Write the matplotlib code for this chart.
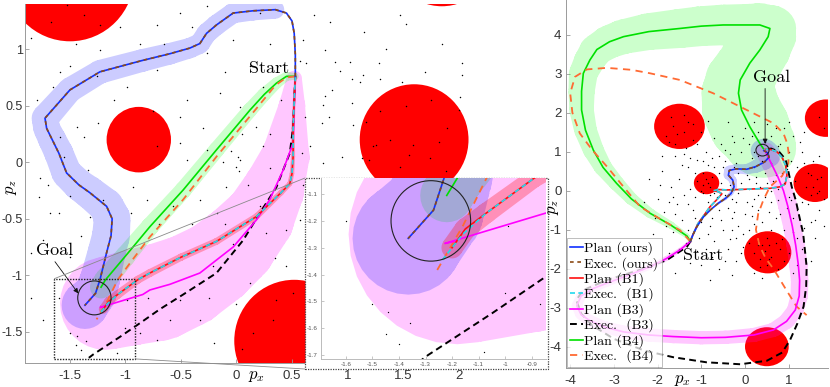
import numpy as np
import matplotlib
matplotlib.use('Agg')
import matplotlib.pyplot as plt
from matplotlib.path import Path
from matplotlib.patches import PathPatch, Circle, Rectangle, ConnectionPatch
from matplotlib.lines import Line2D
from matplotlib.ticker import FuncFormatter

plt.rcParams['font.family'] = ['Liberation Sans', 'DejaVu Sans']
plt.rcParams['mathtext.fontset'] = 'cm'
plt.rcParams['axes.unicode_minus'] = False

# ---------------- obstacles (same map in both panels) ----------------
obs_x = [-1.50, -0.88, 0.52, 1.60, 1.85, 0.50]
obs_y = [1.65, 0.20, -1.58, 0.20, 1.86, -4.00]
obs_r = [0.58, 0.29, 0.54, 0.49, 0.48, 0.50]

# ---------------- left scenario ----------------
a_goal = (-1.28, -1.20)
goal_r = 0.15

a_blue_x = [0.53, 0.53, 0.52, 0.50, 0.45, 0.35, 0.15, -0.03, -0.18, -0.27, -0.33, -0.42, -0.60, -0.85, -1.23,
            -1.50, -1.725, -1.71, -1.66, -1.60, -1.53, -1.42, -1.32, -1.17, -1.12, -1.13, -1.17, -1.23, -1.27, -1.365]
a_blue_y = [0.76, 0.95, 1.14, 1.25, 1.32, 1.35, 1.34, 1.32, 1.215, 1.14, 1.05, 1.01, 0.96, 0.90, 0.80,
            0.64, 0.39, 0.30, 0.20, 0.08, -0.095, -0.20, -0.27, -0.39, -0.50, -0.65, -0.80, -1.04, -1.16, -1.265]
a_blue_w = [0, 0, 0, 0, 0, 0.08, 0.085, 0.09, 0.09, 0.09, 0.09, 0.09, 0.095, 0.10, 0.105,
            0.11, 0.12, 0.12, 0.125, 0.13, 0.135, 0.14, 0.145, 0.155, 0.165, 0.17, 0.17, 0.18, 0.19, 0.21]

a_green_x = [0.53, 0.45, 0.36, 0.25, 0.12, -0.18, -0.48, -0.78, -1.00, -1.18, -1.22]
a_green_y = [0.76, 0.76, 0.70, 0.60, 0.46, 0.11, -0.245, -0.57, -0.83, -1.04, -1.105]
a_green_w = [0.03, 0.04, 0.05, 0.06, 0.065, 0.07, 0.075, 0.08, 0.09, 0.10, 0.10]

a_orange_x = [0.53, 0.45, 0.35, 0.20, -0.18, -0.48, -0.78, -0.95, -1.07, -1.16, -1.26]
a_orange_y = [0.76, 0.75, 0.68, 0.50, 0.05, -0.33, -0.66, -0.88, -1.04, -1.22, -1.39]

a_red_x = [0.53, 0.52, 0.51, 0.51, 0.50, 0.48, 0.40, 0.18, -0.18, -0.50, -0.78, -0.89, -1.07, -1.15, -1.20]
a_red_y = [0.76, 0.55, 0.30, 0.05, -0.10, -0.19, -0.27, -0.48, -0.70, -0.84, -0.98, -1.04, -1.17, -1.23, -1.30]
a_red_w = [0.01, 0.012, 0.015, 0.018, 0.02, 0.022, 0.025, 0.028, 0.03, 0.032, 0.035, 0.035, 0.038, 0.04, 0.04]

a_cyan_x = [0.53, 0.52, 0.51, 0.51, 0.50, 0.48, 0.40, 0.18, -0.18, -0.50, -0.78, -0.89, -1.07, -1.16, -1.24]
a_cyan_y = [0.76, 0.55, 0.30, 0.05, -0.10, -0.19, -0.27, -0.48, -0.70, -0.84, -0.98, -1.04, -1.17, -1.25, -1.35]

a_mag_x = [0.53, 0.52, 0.51, 0.42, 0.30, 0.18, -0.03, -0.33, -0.60, -0.78, -0.844, -1.227, -1.19]
a_mag_y = [0.76, 0.50, 0.17, -0.07, -0.33, -0.51, -0.75, -0.98, -1.08, -1.13, -1.17, -1.284, -1.276]

a_ptube_x = [0.52, 0.50, 0.44, 0.33, 0.20, 0.00, -0.20, -0.45, -0.70, -0.95, -1.18]
a_ptube_y = [0.74, 0.50, 0.05, -0.25, -0.50, -0.73, -0.90, -1.05, -1.15, -1.20, -1.25]
a_ptube_w = [0.07, 0.12, 0.22, 0.28, 0.32, 0.36, 0.38, 0.41, 0.43, 0.42, 0.41]

a_blk_x = [0.53, 0.52, 0.51, 0.48, 0.36, 0.21, 0.06, -0.18, -0.48, -0.69, -0.844, -1.05, -1.29, -1.33]
a_blk_y = [0.76, 0.55, 0.31, 0.08, -0.22, -0.45, -0.69, -0.98, -1.17, -1.30, -1.406, -1.545, -1.70, -1.73]

a_dots = [(-1.53, 1.39), (-1.23, 1.21), (-1.67, 1.24), (-1.37, 1.30), (-0.72, 1.21), (-0.51, 1.32), (-0.87, 1.05),
          (-1.23, 0.99), (-1.59, 0.80), (-1.50, 0.85), (-1.65, 0.67), (-1.26, 0.76), (-0.99, 0.67), (-0.72, 0.82),
          (-0.45, 0.55), (-0.27, 0.97), (-0.03, 1.08), (0.12, 0.85), (0.24, 0.67), (-0.15, 0.61), (0.03, 0.49),
          (-0.51, 0.40), (-1.44, 0.31), (-1.37, 0.22), (-1.59, 0.22), (-1.77, -0.14), (-1.78, -0.31), (-1.68, -0.45),
          (-1.60, -0.45), (-1.32, -0.48), (-1.20, -0.33), (-1.34, -0.07), (-0.72, 0.14), (-0.51, 0.17), (-0.45, 0.02),
          (-0.27, 0.11), (-0.09, -0.22), (0.03, 0.02), (0.00, -0.04), (0.01, 0.05), (0.24, 0.14), (0.18, 0.31),
          (0.57, 0.90), (0.60, 1.08), (0.21, 1.32), (-0.27, 1.38), (-0.93, -0.22), (-0.81, -0.33), (-0.57, -0.39),
          (-0.33, -0.33), (-0.18, -0.45), (0.21, -0.39), (0.39, -0.27), (0.57, -0.51), (0.27, -0.63), (-0.03, -0.72),
          (-0.45, -0.81), (-0.21, -0.92), (0.12, -1.07), (0.45, -0.92), (0.51, -1.16), (0.33, -1.40), (-0.33, -1.40),
          (-0.51, -1.22), (-0.72, -1.57), (-0.87, -1.51), (-1.08, -1.69), (-1.44, -1.54), (-1.74, -1.40),
          (-1.50, -1.51), (-1.40, -1.66), (-0.99, -1.22), (-1.50, -0.84), (-1.74, -0.69), (0.15, -1.51),
          (0.36, -1.22), (0.84, 1.24), (1.47, 1.30), (1.53, 1.22), (0.80, 0.99), (0.63, 0.88), (0.89, 0.89),
          (1.02, 0.89), (1.28, 0.88), (2.03, 0.88), (0.93, 0.81), (1.14, 0.77), (1.29, 0.74), (1.04, 0.74),
          (1.11, 0.71), (1.49, 0.71), (2.03, 0.77), (0.80, 0.59), (0.86, 0.64), (1.04, 0.52), (2.01, 0.58),
          (0.78, 0.51), (0.83, 0.40), (1.05, 0.33), (0.77, 0.35), (0.59, 0.08), (0.66, 0.14), (0.78, -0.01),
          (1.13, 0.04), (1.53, 0.50), (1.29, 0.45), (1.17, 0.36), (1.38, 0.20), (1.23, 0.14), (1.26, 0.15),
          (1.59, 0.15), (1.82, 0.18), (1.55, 0.06), (1.74, 0.04), (1.47, -0.04), (1.89, -0.08), (2.00, 0.46),
          (1.19, 0.02), (-1.45, -1.62), (-1.00, -1.47), (-1.36, -1.58),
          (-1.85, 1.10), (-1.80, 0.55), (-1.45, 1.05), (-1.05, 1.20), (-0.65, 1.05), (-0.40, 1.20), (-0.10, 0.80),
          (0.30, 1.05), (0.40, 0.55), (0.30, 0.25), (-0.30, 0.30), (-0.75, 0.45), (-1.10, 0.55), (-1.25, 0.35),
          (-1.55, 0.05), (-1.70, -0.20), (-1.50, -0.30), (-1.40, -0.65), (-1.85, -0.80), (-1.85, -1.20),
          (-1.60, -1.20), (-0.95, -0.45), (-0.70, -0.55), (-0.40, -0.55), (-0.10, -0.55), (0.10, -0.20),
          (0.30, -0.05), (0.05, 0.25), (-0.12, 0.00), (0.02, -0.08), (-0.05, 0.10), (0.45, -0.60), (0.35, -0.85),
          (0.00, -1.25), (-0.20, -1.60), (-0.60, -1.40), (-0.80, -1.20), (-0.25, -1.20), (0.05, -1.65),
          (0.62, -0.70), (0.60, -0.20), (0.62, 0.40), (0.95, 0.05), (1.35, 1.00), (1.70, 0.80), (1.75, 0.55),
          (1.90, 0.30), (0.70, 1.30), (1.15, 1.15), (1.85, 1.05)]
a_dot_x, a_dot_y = zip(*a_dots)

zoom_x = [-1.64, -0.91]
zoom_y = [-1.74, -1.03]

# ---------------- right scenario ----------------
b_goal = (0.40, 1.04)

b_blue_x = [-1.25, -1.20, -1.10, -0.95, -0.78, -0.61, -0.45, -0.32, -0.25, -0.28, -0.38, -0.36, -0.20, 0.04,
            0.25, 0.45, 0.55, 0.52, 0.43]
b_blue_y = [-1.30, -1.15, -0.92, -0.67, -0.48, -0.32, -0.20, -0.07, 0.10, 0.27, 0.40, 0.52, 0.56, 0.55,
            0.62, 0.74, 0.86, 0.97, 1.03]
b_blue_w = [0, 0, 0, 0, 0, 0.03, 0.04, 0.05, 0.07, 0.09, 0.11, 0.12, 0.12, 0.13, 0.16, 0.20, 0.25, 0.28, 0.30]

b_red_x = [-1.25, -1.18, -1.08, -0.92, -0.80, -0.62, -0.53, -0.60, -0.72, -0.62, -0.40, -0.15, 0.05, 0.30,
           0.57, 0.80, 0.92, 0.96, 0.93, 0.85, 0.73, 0.58, 0.47]
b_red_y = [-1.30, -1.10, -0.85, -0.60, -0.41, -0.20, -0.08, -0.03, 0.00, 0.03, 0.02, 0.03, 0.04, 0.05,
           0.06, 0.10, 0.17, 0.40, 0.65, 0.85, 1.00, 1.06, 1.06]

b_mag_x = [-1.25, -1.49, -1.80, -2.17, -2.70, -3.16, -3.50, -3.75, -3.85, -3.75, -3.55, -3.20, -2.78, -2.20,
           -1.64, -1.00, -0.45, 0.20, 0.65, 0.95, 1.15, 1.24, 1.25, 1.22, 1.16, 1.08, 0.98, 0.88, 0.75, 0.60, 0.46]
b_mag_y = [-1.30, -1.52, -1.74, -1.95, -2.18, -2.37, -2.52, -2.70, -2.95, -3.18, -3.33, -3.50, -3.62, -3.70,
           -3.74, -3.77, -3.76, -3.70, -3.57, -3.35, -3.06, -2.70, -2.30, -1.90, -1.40, -0.90, -0.40, 0.00, 0.36,
           0.70, 1.02]
b_mag_w = [0.04, 0.05, 0.06, 0.07, 0.08, 0.09, 0.10, 0.11, 0.12, 0.13, 0.14, 0.15, 0.16, 0.17, 0.17, 0.17,
           0.17, 0.18, 0.18, 0.19, 0.19, 0.20, 0.20, 0.21, 0.21, 0.21, 0.22, 0.22, 0.22, 0.22, 0.22]

b_blk_x = [-1.25, -1.33, -1.79, -2.40, -3.16, -3.70, -3.86, -3.75, -3.50, -3.00, -2.30, -1.64, -0.88, -0.11,
           0.50, 0.85, 1.03, 1.20, 1.34, 1.40, 1.41, 1.37, 1.33, 1.25, 1.16, 1.07, 1.00, 0.93, 0.78, 0.60, 0.48]
b_blk_y = [-1.30, -1.44, -1.78, -2.03, -2.29, -2.55, -2.80, -3.15, -3.45, -3.80, -4.10, -4.27, -4.40, -4.45,
           -4.36, -4.15, -3.83, -3.40, -2.97, -2.45, -1.95, -1.52, -1.09, -0.70, -0.24, 0.10, 0.45, 0.80, 1.00,
           1.08, 1.07]

b_green_x = [-1.25, -1.33, -1.70, -2.17, -2.60, -2.94, -3.25, -3.47, -3.65, -3.74, -3.74, -3.70, -3.55, -3.39,
             -3.10, -2.78, -2.20, -1.49, -1.00, -0.50, 0.10, 0.34, 0.57, 0.53, 0.34, 0.11, -0.11, -0.15, -0.08,
             0.11, 0.34, 0.42]
b_green_y = [-1.30, -1.16, -0.88, -0.58, -0.21, 0.19, 0.60, 1.04, 1.55, 2.07, 2.55, 3.01, 3.35, 3.62,
             3.82, 3.95, 4.08, 4.16, 4.22, 4.25, 4.25, 4.25, 4.16, 3.95, 3.61, 3.27, 2.84, 2.50, 2.07,
             1.64, 1.21, 1.08]
b_green_w = [0.04, 0.06, 0.09, 0.12, 0.15, 0.18, 0.21, 0.24, 0.26, 0.28, 0.30, 0.33, 0.36, 0.39,
             0.42, 0.44, 0.47, 0.50, 0.51, 0.52, 0.54, 0.56, 0.60, 0.64, 0.70, 0.75, 0.80, 0.85, 0.90,
             0.92, 0.82, 0.75]

b_orange_x = [-1.25, -1.49, -1.95, -2.40, -2.78, -3.16, -3.50, -3.78, -3.95, -4.00, -3.89, -3.62, -3.16,
              -2.60, -2.17, -1.49, -0.73, 0.04, 0.65, 0.88, 0.97, 1.00, 0.99, 0.85, 0.57, 0.42, 0.30, 0.25,
              0.33, 0.48, 0.65, 0.92, 1.18, 1.41]
b_orange_y = [-1.30, -1.01, -0.72, -0.41, 0.10, 0.62, 1.05, 1.47, 2.00, 2.50, 2.92, 3.11, 3.15,
              3.10, 3.01, 2.84, 2.50, 2.07, 1.73, 1.47, 1.20, 0.95, 0.70, 0.38, 0.10, -0.24, -0.60, -1.00,
              -1.40, -1.75, -2.00, -2.50, -2.97, -3.19]

b_dots = [(-1.70, 1.90), (-1.40, 1.50), (-1.20, 1.30), (-1.60, 1.20), (-1.30, 1.75), (-1.55, 1.45), (-1.00, 1.50),
          (-1.10, 1.20), (-1.80, 1.40), (-1.35, 1.10), (-0.90, 0.30), (-0.80, 0.10), (-1.00, 0.00), (-0.75, 0.35),
          (-1.10, 0.25), (-0.95, -0.05), (-1.90, 0.50), (-1.70, 0.10), (-1.75, -0.30), (-1.60, -0.60), (-1.50, 0.30),
          (-1.30, 0.60), (-1.40, -0.10), (-1.20, -0.50), (-1.00, -0.80), (-1.10, 0.80), (-0.90, 1.00), (-0.60, 0.90),
          (-0.50, 0.60), (-0.70, 0.60), (-0.55, 0.20), (-0.45, -0.10), (-0.60, -0.50), (-0.80, -0.90), (-0.50, -1.00),
          (-0.30, -0.70), (-0.20, -0.30), (-0.10, 0.20), (0.10, 0.30), (0.20, -0.20), (0.30, -0.50), (0.00, -0.60),
          (-0.20, -1.20), (0.10, -1.00), (0.40, -0.80), (0.60, -0.30), (0.80, -0.60), (0.90, -1.00), (1.10, -0.70),
          (1.20, -1.20), (1.00, -1.60), (0.30, -1.30), (-0.40, -1.50), (-0.70, -1.30), (-1.30, -1.00), (-1.50, -1.50),
          (-1.00, -1.90), (-0.60, -2.00), (-0.20, -1.80), (0.20, -2.10), (1.20, -1.90), (1.60, -1.20), (1.50, -0.80),
          (1.70, -0.50), (1.30, -0.30), (0.90, 0.20), (0.70, 0.40), (0.50, 0.20), (0.30, 0.90), (0.10, 1.20),
          (-0.10, 1.00), (-0.30, 1.40), (0.00, 1.60), (0.30, 1.50), (0.60, 1.40), (0.80, 1.20), (1.00, 1.00),
          (1.10, 1.40), (0.90, 1.60), (0.50, 1.70), (-0.20, 0.70), (0.20, 0.60), (0.60, 0.70), (1.20, 0.60),
          (1.30, 1.00), (-0.40, 0.40), (-0.30, -0.20), (0.05, -0.30), (0.35, 0.10), (-0.15, -0.90), (0.60, -1.00),
          (0.75, -2.00), (-0.90, -1.50), (-1.80, -0.90), (-2.00, -0.20), (-1.90, 0.90), (1.70, 0.90), (1.80, -0.20),
          (1.45, 0.45), (-0.35, 0.95), (0.15, 0.85), (-0.65, -0.15), (0.45, -0.15), (0.70, -0.70), (-0.05, -1.45),
          (0.55, -1.75), (0.40, -1.40), (1.30, -1.50), (-0.25, 1.25), (1.50, 0.40), (1.70, 0.00), (1.40, 0.10),
          (1.65, 0.30), (1.50, -0.10), (0.30, -1.40), (0.60, -1.70), (0.80, -1.50), (0.50, -1.90), (0.20, -1.60),
          (1.70, 1.90), (1.80, 1.60), (-2.30, -0.30), (-2.10, -1.10), (-1.60, -2.10), (-0.80, -2.30), (1.50, -1.80),
          (1.80, -0.90), (-1.45, 0.65), (-1.25, 0.05), (-0.85, 0.65), (-0.35, 0.15), (0.25, 0.20), (0.75, 0.05),
          (1.05, -0.25), (0.95, 0.55), (0.65, 1.05), (0.15, 1.40), (-0.55, 1.20), (-0.75, -0.70), (-1.05, -1.20),
          (-0.35, -1.25), (0.15, -0.65), (1.05, 0.75), (-1.65, -0.15), (-1.15, 0.45),
          (-1.60, 0.90), (-1.40, 0.95), (-1.25, 0.85), (-0.95, 0.75), (-0.75, 0.85), (-0.45, 0.75), (-0.15, 0.45),
          (0.05, 0.40), (0.25, 0.35), (0.45, 0.45), (0.65, 0.25), (0.85, 0.45), (1.15, 0.25), (1.35, 0.70),
          (1.55, 0.75), (1.25, 1.25), (0.85, 0.85), (0.45, 1.25), (0.20, 1.00), (-0.05, 1.35), (-0.45, 1.05),
          (-0.70, 1.35), (-0.85, 1.80), (-0.40, 1.75), (0.20, 1.75), (0.70, 1.60), (1.00, 1.75), (1.35, 1.50),
          (-1.95, 0.15), (-1.85, -0.55), (-1.55, -0.35), (-1.45, -0.75), (-1.30, -0.35), (-1.15, -0.15),
          (-0.85, -0.30), (-0.70, -0.05), (-0.40, -0.45), (-0.15, -0.05), (0.10, 0.05), (0.30, -0.10), (0.55, -0.55),
          (0.75, -0.25), (0.95, -0.45), (1.20, -0.50), (1.45, -0.35), (1.60, -0.75), (1.35, -0.95), (1.10, -1.05),
          (0.85, -1.25), (0.50, -1.20), (0.20, -0.85), (-0.05, -1.10), (-0.30, -1.00), (-0.55, -0.75),
          (-0.85, -1.10), (-1.15, -0.70), (-1.65, -1.05), (-1.35, -1.35), (-1.10, -1.55), (-0.75, -1.70),
          (-0.45, -1.80), (-0.10, -1.60), (0.10, -1.35), (0.35, -1.75), (0.90, -1.80), (1.10, -2.10), (0.40, -2.25),
          (-0.30, -2.15), (-1.25, -1.85), (-1.75, -1.60), (-2.05, -0.70), (-2.20, 0.30), (-0.25, -0.55),
          (0.15, -0.40), (0.60, 0.00), (1.00, -0.15), (-0.60, 0.45), (-0.25, 0.60), (0.40, 0.75), (0.75, 1.15),
          (-1.20, 1.70), (-1.65, 1.65), (-1.40, 1.95), (-1.75, 1.25), (-0.95, 0.45), (-0.80, -0.10), (-0.85, 0.20),
          (-0.95, 0.15), (1.55, 0.10), (1.75, 0.35), (1.65, -0.05), (0.45, -1.55), (0.70, -1.35), (0.55, -1.40),
          (0.35, -1.95)]
b_dot_x, b_dot_y = zip(*b_dots)

# line styles
sty = {
    'plan_ours': dict(color='#1030ff', lw=1.2, ls='-'),
    'exec_ours': dict(color='#8c4a14', lw=1.2, ls=(0, (2.2, 2.2))),
    'plan_b1': dict(color='#ff1010', lw=1.2, ls='-'),
    'exec_b1': dict(color='#22d8ee', lw=1.2, ls=(0, (3, 2))),
    'plan_b3': dict(color='#ff00ff', lw=1.2, ls='-'),
    'exec_b3': dict(color='#000000', lw=1.4, ls=(0, (3.5, 2.2))),
    'plan_b4': dict(color='#00e000', lw=1.2, ls='-'),
    'exec_b4': dict(color='#ff6a33', lw=1.3, ls=(0, (4, 3))),
}
leg_keys = ['plan_ours', 'exec_ours', 'plan_b1', 'exec_b1', 'plan_b3', 'exec_b3', 'plan_b4', 'exec_b4']
leg_labels = ['Plan (ours)', 'Exec. (ours)', 'Plan (B1)', 'Exec.  (B1)', 'Plan (B3)', 'Exec.  (B3)',
              'Plan (B4)', 'Exec.  (B4)']


def tube_path(x, y, w, n_circ=32):
    # union of discs + trapezoids (all ccw, nonzero fill -> one uniform area)
    x = np.asarray(x, float); y = np.asarray(y, float); w = np.asarray(w, float)
    verts, codes = [], []
    th = np.linspace(0, 2 * np.pi, n_circ, endpoint=False)
    for xi, yi, wi in zip(x, y, w):
        c = np.column_stack([xi + wi * np.cos(th), yi + wi * np.sin(th)])
        verts += list(c) + [c[0]]
        codes += [Path.MOVETO] + [Path.LINETO] * (n_circ - 1) + [Path.CLOSEPOLY]
    for i in range(len(x) - 1):
        d = np.array([x[i + 1] - x[i], y[i + 1] - y[i]])
        L = np.hypot(*d)
        if L == 0:
            continue
        t = d / L
        n = np.array([-t[1], t[0]])
        p0 = np.array([x[i], y[i]]); p1 = np.array([x[i + 1], y[i + 1]])
        q = [p0 - n * w[i], p1 - n * w[i + 1], p1 + n * w[i + 1], p0 + n * w[i]]
        verts += q + [q[0]]
        codes += [Path.MOVETO, Path.LINETO, Path.LINETO, Path.LINETO, Path.CLOSEPOLY]
    return Path(verts, codes)


def add_tube(ax, x, y, w, color, alpha, z=2):
    x, y, w = np.asarray(x), np.asarray(y), np.asarray(w)
    keep = w > 0
    ax.add_patch(PathPatch(tube_path(x[keep], y[keep], w[keep]), fc=color, ec='none', alpha=alpha, zorder=z))


def style_axes(ax, xt, yt, size=9.5, color='#9a9a9a', length=3, pad=3, lab='#333333'):
    for s in ['top', 'right']:
        ax.spines[s].set_visible(False)
    for s in ['left', 'bottom']:
        ax.spines[s].set_color(color)
        ax.spines[s].set_linewidth(0.7)
    ax.set_xticks(xt)
    ax.set_yticks(yt)
    fmt = FuncFormatter(lambda v, p: '%g' % v)
    ax.xaxis.set_major_formatter(fmt)
    ax.yaxis.set_major_formatter(fmt)
    ax.tick_params(direction='in', length=length, width=0.6, color=color, labelsize=size,
                   labelcolor=lab, pad=pad)
    ax.tick_params(axis='x', pad=pad + 2)


def draw_obstacles(ax):
    for cx, cy, r in zip(obs_x, obs_y, obs_r):
        ax.add_patch(Circle((cx, cy), r, fc='#ff0000', ec='none', zorder=1))


def draw_scene_a(ax, dot_size=1.1):
    draw_obstacles(ax)
    add_tube(ax, a_ptube_x, a_ptube_y, a_ptube_w, '#ff00ff', 0.22)
    add_tube(ax, a_green_x, a_green_y, a_green_w, '#00ff00', 0.2)
    add_tube(ax, a_blue_x, a_blue_y, a_blue_w, '#0000ff', 0.2)
    add_tube(ax, a_red_x, a_red_y, a_red_w, '#ff0000', 0.28)
    ax.scatter(a_dot_x, a_dot_y, s=dot_size, c='k', lw=0, zorder=3)
    ax.plot(a_green_x, a_green_y, zorder=4, **sty['plan_b4'])
    ax.plot(a_orange_x, a_orange_y, zorder=4, **sty['exec_b4'])
    ax.plot(a_blk_x, a_blk_y, zorder=4, **sty['exec_b3'])
    ax.plot(a_mag_x, a_mag_y, zorder=4, **sty['plan_b3'])
    ax.plot(a_red_x, a_red_y, zorder=4, **sty['plan_b1'])
    ax.plot(a_cyan_x, a_cyan_y, zorder=4, **sty['exec_b1'])
    ax.plot(a_blue_x, a_blue_y, zorder=4, **sty['plan_ours'])
    ax.plot(a_blue_x, a_blue_y, zorder=4, **sty['exec_ours'])
    ax.add_patch(Circle(a_goal, goal_r, fill=False, ec='#222222', lw=0.8, zorder=6))


fig = plt.figure(figsize=(8.3, 3.87), dpi=100)

# ---------------- left main axes ----------------
axL = fig.add_axes([25 / 830, 24 / 387, 523 / 830, 359 / 387])
axL.set_xlim(-1.905, 2.806)
axL.set_ylim(-1.776, 1.400)
draw_scene_a(axL)
style_axes(axL, [-1.5, -1, -0.5, 0, 0.5, 1, 1.5, 2], [-1.5, -1, -0.5, 0, 0.5, 1])
axL.tick_params(axis='y', labelsize=9, pad=1.5)
axL.add_patch(Rectangle((zoom_x[0], zoom_y[0]), zoom_x[1] - zoom_x[0], zoom_y[1] - zoom_y[0],
                        fill=False, ec='#222222', ls=(0, (1, 1)), lw=1.0, zorder=7))
axL.text(0.29, 0.834, 'Start', family='cmr10', fontsize=13, ha='center', va='center', zorder=8)
axL.text(-1.635, -0.78, 'Goal', family='cmr10', fontsize=13, ha='center', va='center', zorder=8)
axL.annotate('', xy=(-1.425, -1.16), xytext=(-1.635, -0.88), zorder=8,
             arrowprops=dict(arrowstyle='-|>', color='#111111', lw=0.6, mutation_scale=7, shrinkA=0, shrinkB=0))
axL.text(0.4436, -0.038, r'$p_x$', transform=axL.transAxes, fontsize=12, ha='center', va='center')
axL.text(-0.026, 0.49, r'$p_z$', transform=axL.transAxes, fontsize=12, rotation=90, ha='center', va='center')

# inset frame + connectors
border = Rectangle((305 / 830, 18 / 387), 243 / 830, 191 / 387, transform=fig.transFigure,
                   fc='white', ec='#444444', ls=(0, (1, 1)), lw=0.9, zorder=2)
fig.add_artist(border)
con1 = ConnectionPatch(xyA=(zoom_x[0], zoom_y[1]), coordsA='data', axesA=axL,
                       xyB=(305 / 830, 209 / 387), coordsB='figure fraction', color='#8a8a8a', lw=0.6)
con2 = ConnectionPatch(xyA=(zoom_x[1], zoom_y[0]), coordsA='data', axesA=axL,
                       xyB=(305 / 830, 18 / 387), coordsB='figure fraction', color='#8a8a8a', lw=0.6)
for c in (con1, con2):
    c.set_zorder(1.5)
    fig.add_artist(c)

axI = fig.add_axes([320.7 / 830, 28 / 387, 225.3 / 830, 181 / 387])
axI.set_zorder(3)
axI.set_facecolor('white')
axI.set_xlim(-1.695, -0.846)
axI.set_ylim(-1.715, -1.04)
draw_scene_a(axI, dot_size=0.9)
style_axes(axI, [-1.6, -1.5, -1.4, -1.3, -1.2, -1.1, -1.0, -0.9], [-1.7, -1.6, -1.5, -1.4, -1.3, -1.2, -1.1],
           size=4.5, color='#bbbbbb', length=2, pad=2, lab='#555555')
axI.tick_params(axis='x', pad=2)

# ---------------- right axes ----------------
axR = fig.add_axes([565.7 / 830, 19 / 387, 262.3 / 830, 368 / 387])
axR.set_xlim(-4.103, 1.899)
axR.set_ylim(-4.546, 4.890)
draw_obstacles(axR)
add_tube(axR, b_green_x, b_green_y, b_green_w, '#00ff00', 0.2)
add_tube(axR, b_mag_x, b_mag_y, b_mag_w, '#ff00ff', 0.22)
add_tube(axR, b_blue_x, b_blue_y, b_blue_w, '#0000ff', 0.2)
axR.scatter(b_dot_x, b_dot_y, s=1.0, c='k', lw=0, zorder=3)
axR.plot(b_green_x, b_green_y, zorder=4, **sty['plan_b4'])
axR.plot(b_orange_x, b_orange_y, zorder=4, **sty['exec_b4'])
axR.plot(b_blk_x, b_blk_y, zorder=4, **sty['exec_b3'])
axR.plot(b_mag_x, b_mag_y, zorder=4, **sty['plan_b3'])
axR.plot(b_red_x, b_red_y, zorder=4, **sty['plan_b1'])
axR.plot(b_red_x, b_red_y, zorder=4, **sty['exec_b1'])
axR.plot(b_blue_x, b_blue_y, zorder=4, **sty['plan_ours'])
axR.plot(b_blue_x, b_blue_y, zorder=4, **sty['exec_ours'])
axR.add_patch(Circle(b_goal, goal_r, fill=False, ec='#222222', lw=0.8, zorder=6))
style_axes(axR, [-4, -3, -2, -1, 0, 1], [-4, -3, -2, -1, 0, 1, 2, 3, 4])
axR.text(-0.95, -1.65, 'Start', family='cmr10', fontsize=13, ha='center', va='center', zorder=8)
axR.text(0.61, 2.91, 'Goal', family='cmr10', fontsize=13, ha='center', va='center', zorder=8)
axR.annotate('', xy=(0.46, 1.20), xytext=(0.46, 2.62), zorder=8,
             arrowprops=dict(arrowstyle='-|>', color='#111111', lw=0.6, mutation_scale=7, shrinkA=0, shrinkB=0))
axR.text(0.447, -0.035, r'$p_x$', transform=axR.transAxes, fontsize=12, ha='center', va='center')
# right y label sits between the inset frame and the tick labels, keep it above the frame
fig.text(553 / 830, 1 - 207 / 387, r'$p_z$', fontsize=12, rotation=90, ha='center', va='center', zorder=5)

handles = [Line2D([], [], **sty[k]) for k in leg_keys]
leg = axR.legend(handles, leg_labels, loc='lower left', bbox_to_anchor=(0.004, 0.0035), borderaxespad=0,
                 prop={'family': 'cmr10', 'size': 10}, handlelength=0.9, handletextpad=0.1,
                 labelspacing=0.12, borderpad=0.25, fancybox=False, framealpha=0.75, edgecolor='#999999')
leg.get_frame().set_linewidth(0.6)
leg.set_zorder(10)

fig.savefig('out.png', dpi=100)
